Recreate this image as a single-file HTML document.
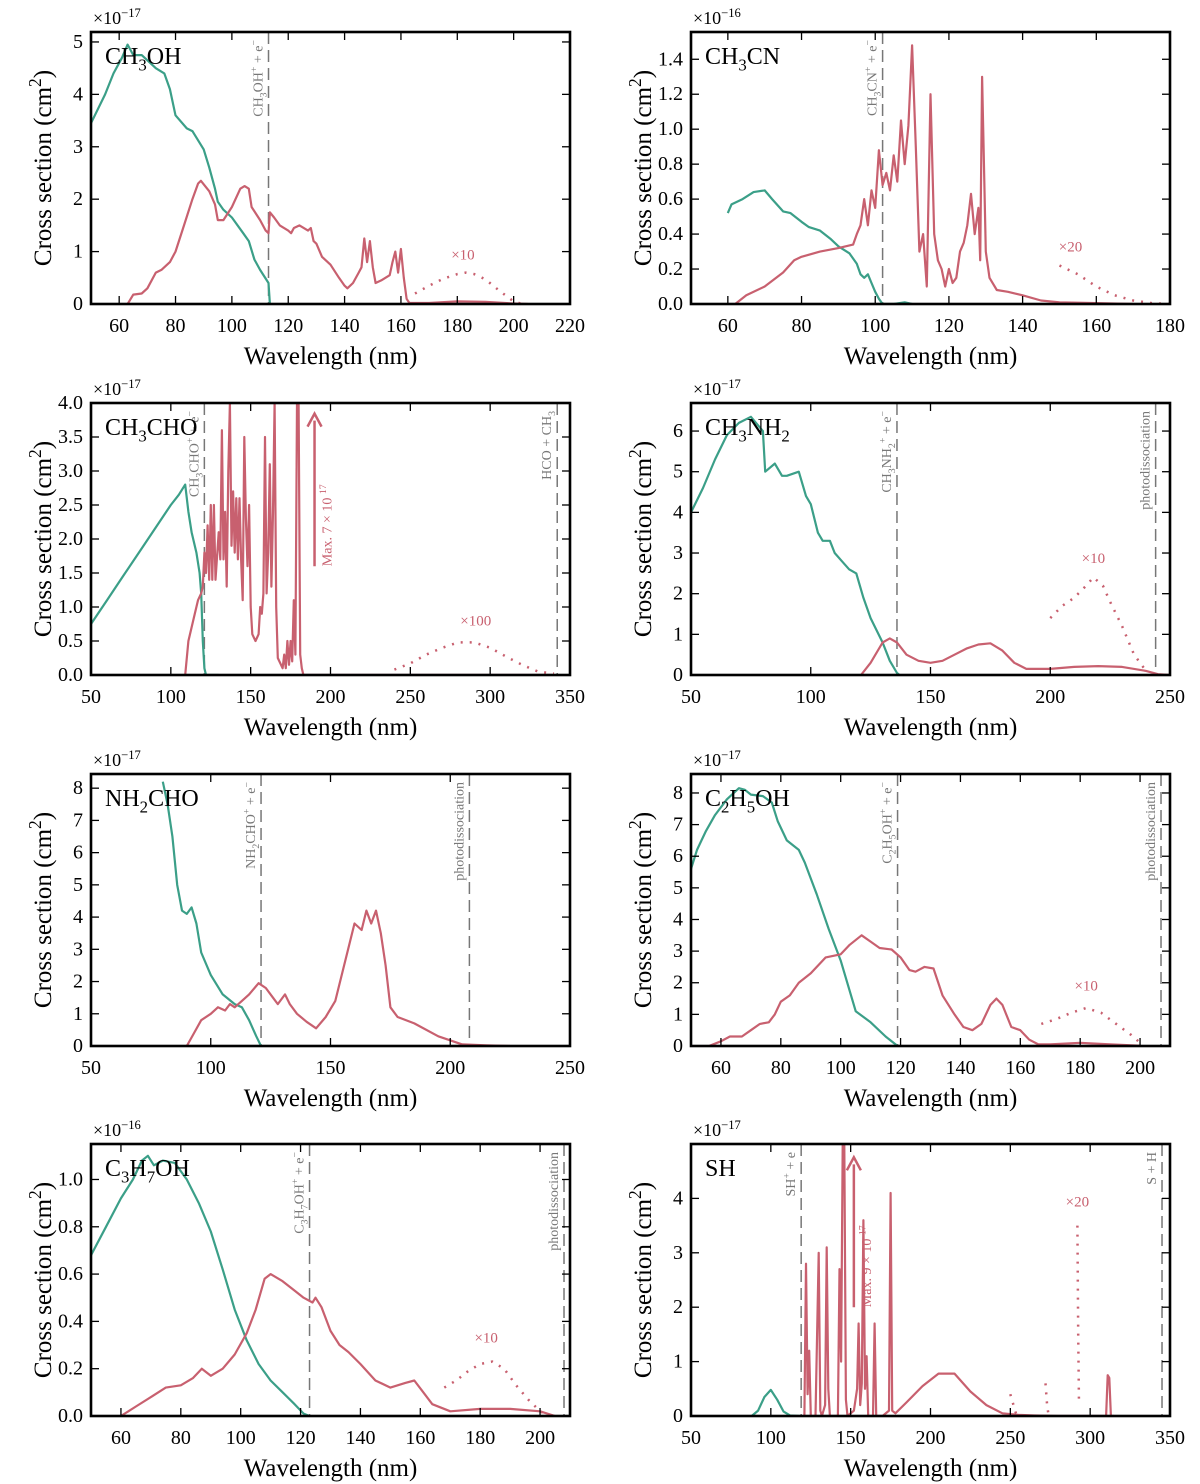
<!DOCTYPE html>
<html><head><meta charset="utf-8"><style>
html,body{margin:0;padding:0;background:#fff}
svg{display:block;font-family:"Liberation Serif",serif}
</style></head><body>
<svg id="fig" width="1200" height="1484" viewBox="0 0 1200 1484"></svg>
<script>
// ---- data (wavelength nm, cross section in panel units) ----
const p1Teal=[[50,3.45],[55,4.0],[58,4.4],[61,4.7],[63,4.95],[65,4.75],[68,4.75],[71,4.6],[73,4.5],[76,4.4],[78,4.1],[80,3.6],[84,3.35],[86,3.3],[90,2.95],[92,2.6],[94,2.2],[95,1.95],[97,1.8],[100,1.65],[104,1.35],[106,1.2],[108,0.85],[110,0.65],[113,0.4],[113.5,0]];
const p1Red=[[63,0],[65,0.18],[68,0.2],[70,0.3],[73,0.6],[75,0.65],[78,0.8],[80,1.0],[83,1.5],[86,2.0],[88,2.3],[89,2.35],[92,2.15],[94,1.9],[95,1.6],[97,1.6],[100,1.85],[103,2.2],[104.5,2.25],[106,2.2],[107,1.85],[110,1.6],[112,1.4],[113,1.35],[113.5,1.75],[115,1.65],[117,1.5],[120,1.4],[121,1.35],[122,1.45],[124,1.5],[127,1.4],[128,1.45],[129,1.2],[130,1.15],[132,0.9],[135,0.75],[138,0.5],[140,0.35],[141,0.3],[143,0.4],[145,0.6],[146,0.7],[147,1.25],[148,0.8],[149,1.2],[150,0.7],[151,0.4],[153,0.45],[156,0.55],[157,0.8],[158,1.0],[159,0.6],[160,1.05],[161,0.5],[162,0.1],[163,0.02],[170,0.02],[180,0.05],[190,0.04],[200,0.01],[205,0]];
const p1Dot=[[165,0.2],[170,0.35],[175,0.48],[180,0.57],[183,0.6],[186,0.57],[190,0.47],[195,0.25],[200,0.05],[203,0]];

const p2Teal=[[60,0.52],[61,0.57],[64,0.6],[67,0.64],[70,0.65],[72,0.6],[75,0.53],[77,0.52],[80,0.47],[82,0.44],[85,0.42],[88,0.37],[90,0.33],[93,0.29],[95,0.23],[96,0.17],[97,0.15],[98,0.17],[99,0.12],[100,0.07],[101,0.03],[102,0],[105,0],[108,0.01],[110,0]];
const p2Red=[[62,0],[65,0.05],[70,0.1],[75,0.18],[78,0.25],[80,0.27],[85,0.3],[90,0.32],[94,0.34],[95,0.4],[96,0.45],[97,0.6],[98,0.45],[99,0.65],[100,0.55],[101,0.88],[102,0.68],[103,0.75],[104,0.65],[105,0.85],[106,0.7],[107,1.05],[108,0.8],[109,1.02],[110,1.48],[111,0.9],[112,0.3],[113,0.4],[114,0.1],[115,1.2],[116,0.4],[117,0.25],[118,0.2],[119,0.1],[120,0.2],[121,0.12],[122,0.15],[123,0.3],[124,0.35],[125,0.45],[126,0.63],[127,0.4],[128,0.55],[128.5,0.25],[129,1.3],[130,0.3],[131,0.15],[133,0.08],[136,0.07],[140,0.05],[145,0.02],[150,0.01],[160,0.005],[170,0]];
const p2Dot=[[150,0.22],[155,0.17],[160,0.1],[165,0.05],[170,0.02],[175,0.005],[180,0]];

const p3Teal=[[50,0.75],[60,1.1],[70,1.45],[80,1.8],[90,2.15],[100,2.5],[105,2.65],[109,2.8],[111,2.4],[113,2.1],[116,1.8],[118,1.5],[119,1.2],[120,0.5],[121,0.1],[122,0],[130,0]];
const p3Red=[[109,0],[111,0.5],[113,0.7],[115,0.9],[117,1.1],[119,1.2],[120,1.3],[121,1.8],[122,1.5],[123,2.2],[124,1.4],[125,2.5],[126,1.4],[127,2.5],[128,1.4],[130,2.1],[131,1.7],[132,3.6],[133,1.7],[134,2.4],[135,1.3],[136,3.0],[137,4.0],[138,1.9],[139,2.7],[140,1.8],[141,2.6],[142,1.7],[143,2.6],[144,1.7],[145,1.1],[146,3.5],[147,2.3],[148,1.6],[149,2.5],[150,1.0],[151,0.6],[153,0.5],[155,0.6],[156,1.0],[157,0.9],[158,1.2],[159,3.5],[160,1.2],[161,1.8],[162,3.1],[163,1.3],[164,2.4],[165,4.0],[166,1.0],[167,0.25],[168,0.2],[170,0.1],[171,0.3],[172,0.1],[173,0.5],[174,0.15],[175,0.5],[176,0.2],[177,1.1],[178,0.3],[179,4.0],[180,4.0],[181,0.3],[182,0.1],[183,0],[200,0],[340,0]];
const p3Dot=[[240,0.08],[250,0.17],[260,0.3],[270,0.4],[280,0.48],[290,0.48],[300,0.4],[310,0.27],[320,0.15],[330,0.05],[340,0.02]];

const p4Teal=[[50,4.0],[55,4.6],[60,5.3],[65,5.9],[70,6.2],[75,6.35],[80,6.0],[81,5.0],[85,5.2],[88,4.9],[90,4.9],[95,5.0],[98,4.4],[100,4.2],[103,3.5],[105,3.3],[108,3.3],[110,3.0],[113,2.8],[116,2.6],[119,2.5],[122,1.9],[125,1.4],[130,0.8],[133,0.35],[136,0.05],[137,0]];
const p4Red=[[121,0],[125,0.3],[130,0.8],[133,0.9],[136,0.8],[140,0.5],[145,0.35],[150,0.3],[155,0.35],[160,0.5],[165,0.65],[170,0.75],[175,0.78],[180,0.6],[185,0.3],[190,0.15],[200,0.15],[210,0.2],[220,0.22],[230,0.2],[240,0.1],[245,0.02],[250,0]];
const p4Dot=[[200,1.4],[205,1.7],[210,1.9],[215,2.2],[218,2.4],[222,2.2],[225,1.8],[230,1.2],[235,0.5],[240,0.1]];

const p5Teal=[[80,8.2],[82,7.5],[84,6.5],[86,5.0],[88,4.2],[90,4.1],[92,4.3],[94,3.8],[96,2.9],[100,2.2],[105,1.6],[110,1.3],[113,1.2],[116,0.8],[119,0.3],[121,0]];
const p5Red=[[90,0],[93,0.4],[96,0.8],[100,1.0],[103,1.2],[106,1.1],[108,1.3],[110,1.2],[113,1.4],[116,1.6],[120,1.95],[123,1.8],[126,1.5],[128,1.3],[131,1.6],[133,1.3],[136,1.0],[140,0.75],[144,0.55],[148,0.9],[152,1.4],[155,2.3],[158,3.2],[160,3.8],[163,3.6],[165,4.2],[167,3.8],[169,4.2],[171,3.5],[173,2.5],[175,1.2],[178,0.9],[185,0.7],[195,0.3],[205,0.05],[215,0.02],[225,0]];
const p5Dot=[];

const p6Teal=[[50,5.6],[52,6.2],[55,6.8],[58,7.3],[62,7.8],[66,8.15],[68,8.1],[70,7.95],[74,7.9],[77,7.7],[79,7.1],[82,6.5],[86,6.2],[88,5.8],[92,4.8],[96,3.7],[100,2.7],[105,1.1],[110,0.75],[115,0.3],[119,0]];
const p6Red=[[56,0],[60,0.15],[63,0.3],[67,0.3],[70,0.5],[73,0.7],[76,0.75],[78,1.0],[80,1.4],[83,1.6],[86,2.0],[90,2.3],[95,2.8],[100,2.9],[103,3.2],[107,3.5],[110,3.3],[113,3.1],[117,3.05],[120,2.8],[123,2.4],[125,2.35],[128,2.5],[131,2.45],[134,1.6],[138,1.0],[141,0.6],[144,0.5],[147,0.7],[150,1.3],[152,1.5],[154,1.3],[157,0.6],[160,0.5],[163,0.2],[166,0.05],[170,0.05],[180,0.1],[190,0.05],[200,0.01]];
const p6Dot=[[167,0.7],[172,0.85],[177,1.05],[182,1.2],[187,1.05],[192,0.7],[197,0.35],[200,0.1]];

const p7Teal=[[50,0.68],[55,0.8],[60,0.92],[64,1.0],[67,1.08],[69,1.1],[71,1.06],[74,1.08],[78,1.07],[82,1.0],[86,0.9],[90,0.78],[94,0.62],[98,0.45],[102,0.32],[106,0.22],[110,0.15],[114,0.1],[118,0.05],[121,0.01],[123,0]];
const p7Red=[[60,0],[65,0.04],[70,0.08],[75,0.12],[80,0.13],[84,0.16],[87,0.2],[90,0.17],[94,0.2],[98,0.26],[102,0.35],[105,0.45],[108,0.58],[110,0.6],[114,0.57],[118,0.53],[121,0.5],[124,0.48],[125,0.5],[127,0.46],[130,0.36],[133,0.3],[136,0.27],[140,0.22],[145,0.15],[150,0.12],[155,0.14],[158,0.15],[161,0.1],[164,0.05],[170,0.02],[180,0.03],[190,0.03],[200,0.02],[205,0]];
const p7Dot=[[168,0.12],[172,0.15],[176,0.19],[180,0.22],[184,0.23],[188,0.2],[192,0.13],[196,0.07],[200,0.02],[203,0]];

const p8Teal=[[88,0],[92,0.1],[96,0.35],[100,0.48],[104,0.3],[108,0.08],[112,0.01],[118,0]];
const p8Red=[[121,0],[122,2.8],[123,0.4],[124,1.2],[125,0],[128,0],[130,3.0],[131,0.1],[132,0],[134,0.2],[135,3.1],[136,0.5],[137,0],[142,0],[143,2.7],[144,1.0],[145,5.0],[146,5.0],[147,0.3],[148,0],[152,0.1],[154,0.5],[155,1.7],[156,0.2],[157,0.6],[158,3.6],[159,0.5],[160,1.1],[161,0],[164,0],[165,1.7],[166,0],[170,0],[174,0.1],[175,4.1],[176,0.1],[178,0.05],[185,0.25],[195,0.55],[205,0.78],[215,0.78],[225,0.45],[235,0.2],[245,0.05],[255,0.02],[265,0.01],[280,0],[310,0],[311,0.75],[312,0.7],[313,0],[315,0]];
const p8Dot=[[250,0.4],[252,0.2],[254,0],null,[272,0.6],[273,0.2],[274,0],null,[292,3.5],[292.5,1.5],[293,0.2]];

const xTicks20a=[60,80,100,120,140,160,180,200,220];
const xTicks20b=[60,80,100,120,140,160,180];
const xTicks50a=[50,100,150,200,250,300,350];
const xTicks50b=[50,100,150,200,250];
const xTicks20c=[60,80,100,120,140,160,180,200];
const yTicksP1=[0,1,2,3,4,5];
const yTicksP2=[0,0.2,0.4,0.6,0.8,1.0,1.2,1.4];
const yTicksP3=[0,0.5,1.0,1.5,2.0,2.5,3.0,3.5,4.0];
const yTicksP4=[0,1,2,3,4,5,6];
const yTicksP5=[0,1,2,3,4,5,6,7,8];
const yTicksP7=[0,0.2,0.4,0.6,0.8,1.0];
const yTicksP8=[0,1,2,3,4];

const TEAL="#3b9f88", RED="#c8606f", GRAY="#777";
const svg=document.getElementById('fig');
const NS="http://www.w3.org/2000/svg";
function mk(tag,attrs,parent){const e=document.createElementNS(NS,tag);for(const k in attrs)e.setAttribute(k,attrs[k]);(parent||svg).appendChild(e);return e;}
function rich(t,segs,size){ // segs: [text, 0 normal | 1 sub | 2 sup]
  let cur=0;
  segs.forEach(s=>{const ts=document.createElementNS(NS,'tspan');
    const target=s[1]===1?size*0.28:(s[1]===2?-size*0.4:0);
    const dy=target-cur;
    if(dy!==0)ts.setAttribute('dy',dy.toFixed(2));
    cur=target;
    ts.setAttribute('font-size',s[1]?size*0.7:size);
    ts.textContent=s[0];t.appendChild(ts);
  });}

const panels=[
 {id:'ch3oh',L:91,T:32,xmin:50,xmax:220,ymax:5.19,xt:xTicks20a,yt:yTicksP1,dec:0,exp:'−17',name:[['CH',0],['3',1],['OH',0]],teal:p1Teal,red:p1Red,dot:p1Dot,
  vl:[{x:113,lab:[['CH',0],['3',1],['OH',0],['+',2],[' + e',0],['−',2]]}],mult:{t:'×10',x:182,y:0.85},arrow:null},
 {id:'ch3cn',L:691,T:32,xmin:50,xmax:180,ymax:1.556,xt:xTicks20b,yt:yTicksP2,dec:1,exp:'−16',name:[['CH',0],['3',1],['CN',0]],teal:p2Teal,red:p2Red,dot:p2Dot,
  vl:[{x:102,lab:[['CH',0],['3',1],['CN',0],['+',2],[' + e',0],['−',2]]}],mult:{t:'×20',x:153,y:0.3},arrow:null},
 {id:'ch3cho',L:91,T:403,xmin:50,xmax:350,ymax:4.0,xt:xTicks50a,yt:yTicksP3,dec:1,exp:'−17',name:[['CH',0],['3',1],['CHO',0]],teal:p3Teal,red:p3Red,dot:p3Dot,
  vl:[{x:121,lab:[['CH',0],['3',1],['CHO',0],['+',2],[' + e',0],['−',2]]},{x:342,lab:[['HCO + CH',0],['3',1]]}],mult:{t:'×100',x:291,y:0.73},arrow:{x:190,y0:1.6,y1:3.8,lab:'Max. 7 × 10',sup:'17'}},
 {id:'ch3nh2',L:691,T:403,xmin:50,xmax:250,ymax:6.69,xt:xTicks50b,yt:yTicksP4,dec:0,exp:'−17',name:[['CH',0],['3',1],['NH',0],['2',1]],teal:p4Teal,red:p4Red,dot:p4Dot,
  vl:[{x:136,lab:[['CH',0],['3',1],['NH',0],['2',1],['+',2],[' + e',0],['−',2]]},{x:244,lab:[['photodissociation',0]]}],mult:{t:'×10',x:218,y:2.75},arrow:null},
 {id:'nh2cho',L:91,T:774,xmin:50,xmax:250,ymax:8.44,xt:xTicks50b,yt:yTicksP5,dec:0,exp:'−17',name:[['NH',0],['2',1],['CHO',0]],teal:p5Teal,red:p5Red,dot:p5Dot,
  vl:[{x:121,lab:[['NH',0],['2',1],['CHO',0],['+',2],[' + e',0],['−',2]]},{x:208,lab:[['photodissociation',0]]}],mult:null,arrow:null},
 {id:'c2h5oh',L:691,T:774,xmin:50,xmax:210,ymax:8.6,xt:xTicks20c,yt:yTicksP5,dec:0,exp:'−17',name:[['C',0],['2',1],['H',0],['5',1],['OH',0]],teal:p6Teal,red:p6Red,dot:p6Dot,
  vl:[{x:119,lab:[['C',0],['2',1],['H',0],['5',1],['OH',0],['+',2],[' + e',0],['−',2]]},{x:207,lab:[['photodissociation',0]]}],mult:{t:'×10',x:182,y:1.75},arrow:null},
 {id:'c3h7oh',L:91,T:1144,xmin:50,xmax:210,ymax:1.15,xt:xTicks20c,yt:yTicksP7,dec:1,exp:'−16',name:[['C',0],['3',1],['H',0],['7',1],['OH',0]],teal:p7Teal,red:p7Red,dot:p7Dot,
  vl:[{x:123,lab:[['C',0],['3',1],['H',0],['7',1],['OH',0],['+',2],[' + e',0],['−',2]]},{x:208,lab:[['photodissociation',0]]}],mult:{t:'×10',x:182,y:0.31},arrow:null},
 {id:'sh',L:691,T:1144,xmin:50,xmax:350,ymax:5.0,xt:xTicks50a,yt:yTicksP8,dec:0,exp:'−17',name:[['SH',0]],teal:p8Teal,red:p8Red,dot:p8Dot,
  vl:[{x:119,lab:[['SH',0],['+',2],[' + e',0]]},{x:345,lab:[['S + H',0]]}],mult:{t:'×20',x:292,y:3.85},arrow:{x:152,y0:2.0,y1:4.7,lab:'Max. 9 × 10',sup:'17'}}
];

function pathD(data,X,Y){let d='',pen=false;data.forEach(p=>{if(!p){pen=false;return;}d+=(pen?'L':'M')+X(p[0]).toFixed(1)+','+Y(p[1]).toFixed(1);pen=true;});return d;}

panels.forEach(P=>{
  const W=479,H=272,L=P.L,T=P.T,R=L+W,B=T+H;
  const X=v=>L+(v-P.xmin)/(P.xmax-P.xmin)*W;
  const Y=v=>B-v/P.ymax*H;
  const g=mk('g',{});
  
  
  const cid='clip-'+P.id;
  const cp=mk('clipPath',{id:cid},g);mk('rect',{x:L,y:T,width:W,height:H},cp);
  const plot=mk('g',{'clip-path':'url(#'+cid+')'},g);
  P.vl.forEach((v,i)=>{
    const ln=mk('line',{x1:X(v.x),x2:X(v.x),y1:T,y2:B,stroke:GRAY,'stroke-width':1.5,'stroke-dasharray':'12,6'},plot);
    
    
    const tx=X(v.x)-6, ty=T+8;
    const t=mk('text',{x:0,y:0,transform:'translate('+tx+','+ty+') rotate(-90)','text-anchor':'end','font-size':14,fill:GRAY},g);
    
    
    rich(t,v.lab,14);
  });
  const tl=mk('path',{d:pathD(P.teal,X,Y),fill:'none',stroke:TEAL,'stroke-width':2.2,'stroke-linejoin':'round'},plot);
  
  
  const rl=mk('path',{d:pathD(P.red,X,Y),fill:'none',stroke:RED,'stroke-width':2.2,'stroke-linejoin':'round'},plot);
  
  
  if(P.dot.length){
    const dl=mk('path',{d:pathD(P.dot,X,Y),fill:'none',stroke:RED,'stroke-width':2.5,'stroke-dasharray':'2,7','stroke-linecap':'butt'},plot);
    
    
  }
  if(P.mult){
    const m=mk('text',{x:X(P.mult.x),y:Y(P.mult.y),'text-anchor':'middle','font-size':15,fill:RED},g);
    
    
    m.textContent=P.mult.t;
  }
  if(P.arrow){
    const a=P.arrow;
    const al=mk('line',{x1:X(a.x),x2:X(a.x),y1:Y(a.y0),y2:Y(a.y1)+4,stroke:RED,'stroke-width':2.5},g);
    
    
    const ah=mk('path',{d:`M${X(a.x)-7},${Y(a.y1)+10}L${X(a.x)},${Y(a.y1)-3}L${X(a.x)+7},${Y(a.y1)+10}`,fill:'none',stroke:RED,'stroke-width':2.5},g);
    
    
    const at=mk('text',{transform:`translate(${X(a.x)+17},${Y(a.y0)}) rotate(-90)`,'font-size':14,fill:RED},g);
    
    
    rich(at,[[a.lab+'  ',0],[a.sup,2]],14);
  }
  const fr=mk('rect',{x:L,y:T,width:W,height:H,fill:'none',stroke:'#000','stroke-width':2.6},g);
  
  
  P.xt.forEach(v=>{const x=X(v);
    mk('line',{x1:x,x2:x,y1:B,y2:B-8,stroke:'#000','stroke-width':1.3},g);
    mk('line',{x1:x,x2:x,y1:T,y2:T+8,stroke:'#000','stroke-width':1.3},g);
    const t=mk('text',{x:x,y:B+28,'text-anchor':'middle','font-size':20},g);
    
    
    t.textContent=v;});
  P.yt.forEach(v=>{const y=Y(v);
    mk('line',{x1:L,x2:L+8,y1:y,y2:y,stroke:'#000','stroke-width':1.3},g);
    mk('line',{x1:R,x2:R-8,y1:y,y2:y,stroke:'#000','stroke-width':1.3},g);
    const t=mk('text',{x:L-8,y:y+6,'text-anchor':'end','font-size':20},g);
    
    
    t.textContent=v.toFixed(P.dec);});
  const xl=mk('text',{x:L+W/2,y:B+60,'text-anchor':'middle','font-size':25},g);
  
  
  xl.textContent='Wavelength (nm)';
  const yl=mk('text',{transform:`translate(${L-40},${T+H/2}) rotate(-90)`,'text-anchor':'middle','font-size':25},g);
  
  
  rich(yl,[['Cross section (cm',0],['2',2],[')',0]],25);
  const ex=mk('text',{x:L+2,y:T-8,'font-size':18},g);
  
  
  rich(ex,[['×10',0],[P.exp,2]],18);
  const nm=mk('text',{x:L+14,y:T+32,'font-size':24},g);
  
  
  rich(nm,P.name,24);
});
</script>
</body></html>
